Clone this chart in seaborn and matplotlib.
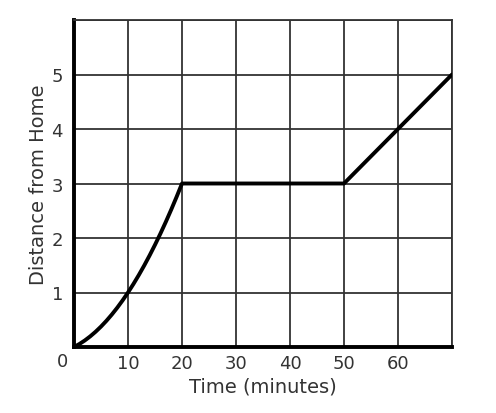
import numpy as np
import pandas as pd
import matplotlib
matplotlib.use("Agg")
import matplotlib.pyplot as plt
import seaborn as sns

# values
time_min = [0, 1, 2, 3, 4, 5, 6, 7, 8, 9, 10, 11, 12, 13, 14, 15, 16, 17, 18, 19, 20, 50, 70]
distance = [0, 0.055, 0.12, 0.195, 0.28, 0.375, 0.48, 0.595, 0.72, 0.855, 1.0,
            1.155, 1.32, 1.495, 1.68, 1.875, 2.08, 2.295, 2.52, 2.755, 3.0, 3.0, 5.0]
x_ticks = [10, 20, 30, 40, 50, 60]
y_ticks = [1, 2, 3, 4, 5]

df = pd.DataFrame({"time": time_min, "distance": distance})

sns.set_theme(style="white")
plt.rcParams["font.family"] = ["DejaVu Sans"]

fig, ax = plt.subplots(figsize=(4.96, 4.14), dpi=100)
fig.subplots_adjust(left=74 / 496, right=452 / 496, top=1 - 21 / 414, bottom=1 - 348 / 414)

sns.lineplot(data=df, x="time", y="distance", color="black", linewidth=2.8, ax=ax,
             zorder=5, sort=False)

ax.set_xlim(0, 70)
ax.set_ylim(0, 6)
ax.set_xticks(range(0, 71, 10))
ax.set_yticks(range(0, 7))
ax.grid(True, color="#333333", linewidth=1.3)
ax.set_axisbelow(True)

ax.set_xticklabels([str(v) if v in x_ticks else "" for v in range(0, 71, 10)])
ax.set_yticklabels([str(v) if v in y_ticks else "" for v in range(0, 7)])
ax.tick_params(axis="both", length=0, labelsize=13, labelcolor="#333333")
ax.tick_params(axis="x", pad=5)
ax.tick_params(axis="y", pad=8)
ax.text(-2.2, -0.25, "0", fontsize=13, color="#333333", ha="center", va="center")

for side in ["top", "right"]:
    ax.spines[side].set_color("#333333")
    ax.spines[side].set_linewidth(1.3)
for side in ["left", "bottom"]:
    ax.spines[side].set_color("black")
    ax.spines[side].set_linewidth(2.8)

ax.set_xlabel("Time (minutes)", fontsize=14, color="#333333", labelpad=3)
ax.set_ylabel("Distance from Home", fontsize=14, color="#333333", labelpad=2.5)

fig.savefig("out.png", dpi=100, facecolor="white")
